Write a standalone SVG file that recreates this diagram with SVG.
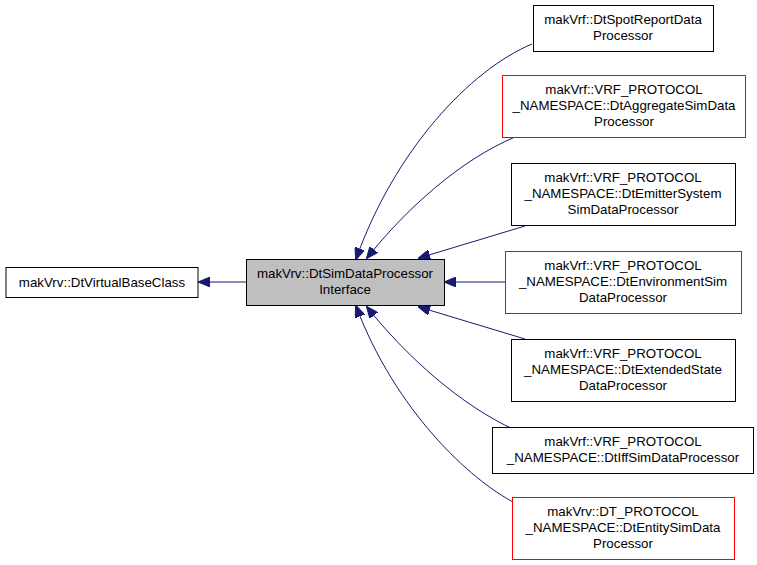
<svg xmlns="http://www.w3.org/2000/svg" width="757" height="565" viewBox="0 0 757 565">
<defs>
<marker id="ah" markerWidth="12" markerHeight="10" refX="11" refY="5" orient="auto" markerUnits="userSpaceOnUse">
<path d="M0,0 L12,5 L0,10 Z" fill="#191970" stroke="#191970"/>
</marker>
<style>
.n{fill:#fff;stroke:#000;stroke-width:1}
.r{fill:#fff;stroke:#ff0000;stroke-width:1}
.g{fill:#bfbfbf;stroke:#000;stroke-width:1}
text{font-family:"Liberation Sans",Arial,sans-serif;font-size:13.3px;fill:#000;text-anchor:middle}
.e{fill:none;stroke:#191970;stroke-width:1;marker-end:url(#ah)}
</style>
</defs>
<rect width="757" height="565" fill="#fff"/>
<g id="connectors">
<path class="e" d="M246,282 L199,282"/>
<path class="e" d="M532,44 C470,70 395,150 356,259"/>
<path class="e" d="M515,137 C460,160 405,210 367,258"/>
<path class="e" d="M525,226 L419,258"/>
<path class="e" d="M505,282 L445,282"/>
<path class="e" d="M525,339 L419,307"/>
<path class="e" d="M515,430 C460,405 405,355 367,307"/>
<path class="e" d="M515,503 C470,480 395,410 356,306"/>
</g>
<g id="base"><rect class="n" x="6" y="267.5" width="192" height="30"/><text x="102" y="287">makVrv::DtVirtualBaseClass</text></g>
<g id="center"><rect class="g" x="246.5" y="259.5" width="198" height="46"/><text x="345" y="278">makVrv::DtSimDataProcessor</text><text x="345" y="294">Interface</text></g>
<g id="spot"><rect class="n" x="533.5" y="5.5" width="180" height="46"/><text x="623" y="24">makVrf::DtSpotReportData</text><text x="623" y="40">Processor</text></g>
<g id="aggr"><rect class="r" x="502.5" y="75.5" width="243" height="62"/><text x="624" y="94">makVrf::VRF_PROTOCOL</text><text x="624" y="110">_NAMESPACE::DtAggregateSimData</text><text x="624" y="126">Processor</text></g>
<g id="emit"><rect class="n" x="511.5" y="163.5" width="224" height="62"/><text x="623" y="182">makVrf::VRF_PROTOCOL</text><text x="623" y="198">_NAMESPACE::DtEmitterSystem</text><text x="623" y="214">SimDataProcessor</text></g>
<g id="env"><rect class="r" x="505.5" y="251.5" width="236" height="62"/><text x="623" y="270">makVrf::VRF_PROTOCOL</text><text x="623" y="286">_NAMESPACE::DtEnvironmentSim</text><text x="623" y="302">DataProcessor</text></g>
<g id="ext"><rect class="n" x="511.5" y="339.5" width="224" height="62"/><text x="623" y="358">makVrf::VRF_PROTOCOL</text><text x="623" y="374">_NAMESPACE::DtExtendedState</text><text x="623" y="390">DataProcessor</text></g>
<g id="iff"><rect class="n" x="492.5" y="427.5" width="261" height="46"/><text x="623" y="446">makVrf::VRF_PROTOCOL</text><text x="623" y="462">_NAMESPACE::DtIffSimDataProcessor</text></g>
<g id="dt"><rect class="r" x="512.5" y="497.5" width="222" height="62"/><text x="623" y="516">makVrv::DT_PROTOCOL</text><text x="623" y="532">_NAMESPACE::DtEntitySimData</text><text x="623" y="548">Processor</text></g>
</svg>
